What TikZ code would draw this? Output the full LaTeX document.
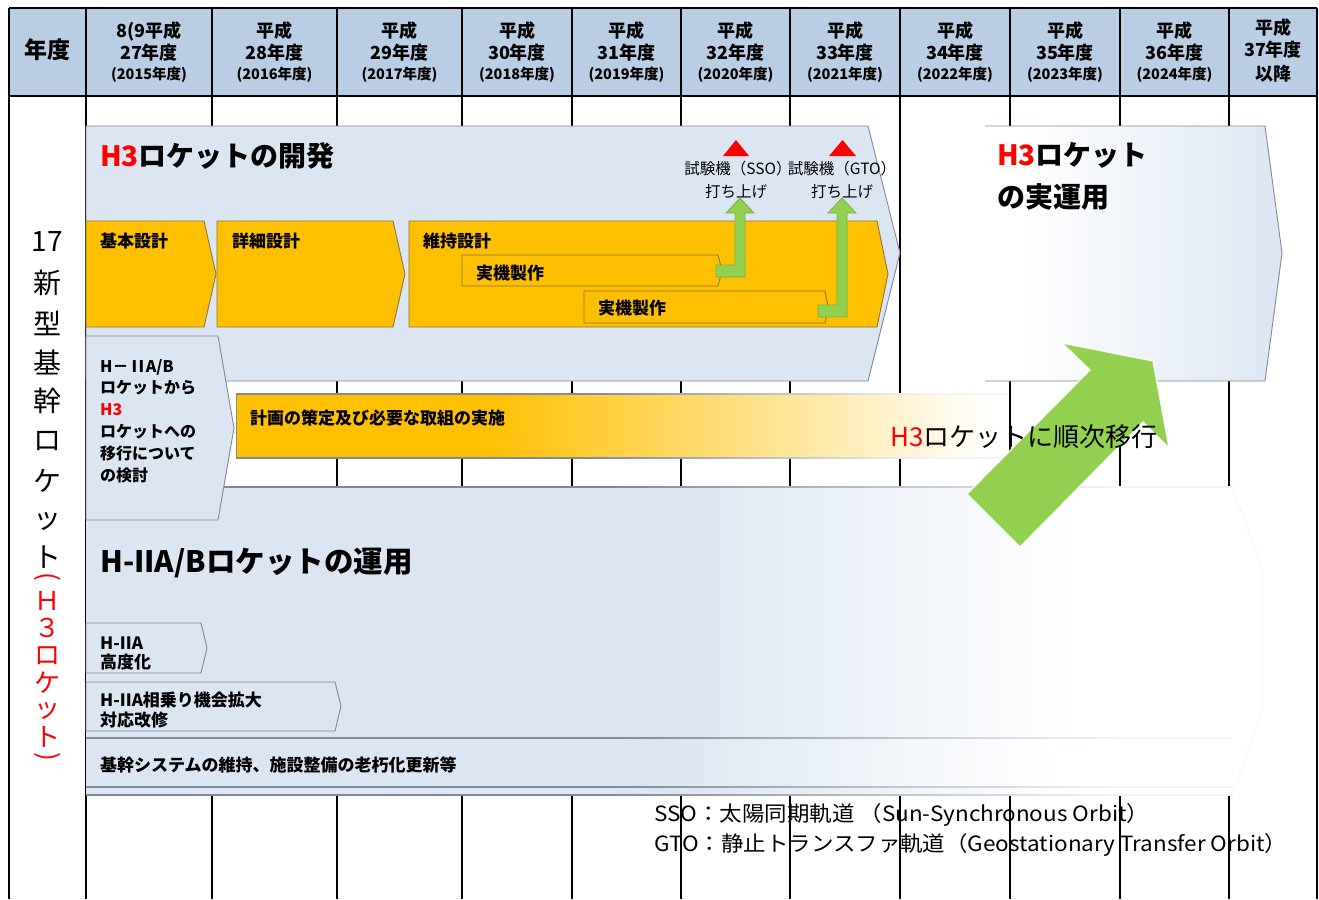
\documentclass[tikz,border=0pt]{standalone}
\usepackage{fontspec}
\setmainfont{Noto Sans CJK JP}
\definecolor{hdrC}{RGB}{185,205,229}
\definecolor{blueL}{RGB}{220,230,242}
\definecolor{orgC}{RGB}{255,192,0}
\definecolor{orgD}{RGB}{140,118,60}
\definecolor{grayL}{RGB}{128,138,152}
\definecolor{grayF}{RGB}{242,244,247}
\definecolor{grnC}{RGB}{146,208,80}
\definecolor{grnD}{RGB}{122,178,70}
\definecolor{redC}{RGB}{255,0,0}
\pgfdeclarehorizontalshading{orgfade}{100bp}{color(0bp)=(orgC); color(25bp)=(orgC); color(41bp)=(orgC); color(74bp)=(white); color(100bp)=(white)}
\pgfdeclarehorizontalshading{opfade}{100bp}{color(0bp)=(white); color(25bp)=(white); color(31bp)=(white); color(75bp)=(blueL); color(100bp)=(blueL)}
\pgfdeclarehorizontalshading{regfade}{100bp}{color(0bp)=(blueL); color(25bp)=(blueL); color(50bp)=(blueL); color(67bp)=(white); color(100bp)=(white)}
\pgfdeclarehorizontalshading{linefade}{100bp}{color(0bp)=(grayL); color(25bp)=(grayL); color(48bp)=(grayL); color(70bp)=(grayF); color(100bp)=(grayF)}
\tikzset{
  gridline/.style={line width=1.6pt, black},
  borderline/.style={line width=2.2pt, black},
  lbox/.style={fill=blueL, draw=grayL, line width=0.9pt},
  obox/.style={fill=orgC, draw=orgD, line width=0.9pt},
  garrow/.style={fill=grnC, draw=grnD, line width=0.8pt},
  redtri/.style={fill=redC},
  hdr/.style={inner sep=0pt, font=\bfseries\fontsize{18}{20}\selectfont},
  hdrs/.style={inner sep=0pt, font=\bfseries\fontsize{14.5}{16}\selectfont},
  title/.style={inner sep=0pt, anchor=west, font=\bfseries\fontsize{28}{32}\selectfont},
  lbl/.style={inner sep=0pt, anchor=west, font=\bfseries\fontsize{17}{20}\selectfont},
  lbls/.style={inner sep=0pt, anchor=west, font=\bfseries\fontsize{16}{19}\selectfont},
  plain/.style={inner sep=0pt, font=\fontsize{15.5}{18}\selectfont},
  vchar/.style={inner sep=0pt, font=\fontsize{28}{30}\selectfont},
  rchar/.style={inner sep=0pt, text=redC, font=\fontsize{26}{28}\selectfont},
  note/.style={inner sep=0pt, anchor=west, font=\fontsize{21}{24}\selectfont},
}
\begin{document}
\begin{tikzpicture}[x=1pt,y=-1pt]
\useasboundingbox (0,0) rectangle (1319,899);
\fill[white] (0,0) rectangle (1319,899);
% header
\fill[hdrC] (9,8) rectangle (1317,96);
% grid
\foreach \x in {86,212,337,462,572,681,790,900,1010,1120,1229}
  \draw[gridline] (\x,8) -- (\x,899);
\draw[borderline] (9,8) -- (9,899);
\draw[borderline] (1317,8) -- (1317,899);
\draw[gridline] (9,8) -- (1317,8);
\draw[gridline] (9,96) -- (1317,96);

% header texts
\node[inner sep=0pt, font=\bfseries\fontsize{23}{26}\selectfont] (h0) at (47.5,50) {年度};
\node[hdr] (h1a) at (149,31) {8(9平成};
\node[hdr] (h1b) at (149,53) {27年度};
\node[hdrs] (h1c) at (149,75) {(2015年度)};
\foreach \c/\n/\yy/\yr in {2/274.5/28/2016, 3/399.5/29/2017, 4/517/30/2018, 5/626.5/31/2019, 6/735.5/32/2020, 7/845/33/2021, 8/955/34/2022, 9/1065/35/2023, 10/1174.5/36/2024}{
  \node[hdr] (h\c a) at (\n,31) {平成};
  \node[hdr] (h\c b) at (\n,53) {\yy 年度};
  \node[hdrs] (h\c c) at (\n,75) {(\yr 年度)};
}
\node[hdr] (h11a) at (1273,28) {平成};
\node[hdr] (h11b) at (1273,50) {37年度};
\node[hdr] (h11c) at (1273,74) {以降};

% H3 development
\draw[lbox] (86,126) -- (868,126) -- (900,253) -- (868,381) -- (86,381) -- cycle;
\node[title] (devT) at (100,156) {\textcolor{redC}{H3}ロケットの開発};
\draw[obox] (86,221) -- (204,221) -- (216,274) -- (204,327) -- (86,327) -- cycle;
\draw[obox] (217,221) -- (393,221) -- (405,274) -- (393,327) -- (217,327) -- cycle;
\draw[obox] (409,221) -- (877,221) -- (888,274) -- (877,327) -- (409,327) -- cycle;
\draw[obox] (462,255) -- (718,255) -- (722,270.5) -- (718,286) -- (462,286) -- cycle;
\draw[obox] (584,291) -- (825,291) -- (828,307) -- (825,323) -- (584,323) -- cycle;
\node[lbl] (kihon) at (100,241) {基本設計};
\node[lbl] (shosai) at (232,241) {詳細設計};
\node[lbl] (iji) at (423,241) {維持設計};
\node[lbl] (jikki1) at (476,273) {実機製作};
\node[lbl] (jikki2) at (598,308) {実機製作};
% launch arrows
\draw[garrow] (716,265) -- (735,265) -- (735,213) -- (726,213) -- (740,198) -- (754,213) -- (745,213) -- (745,277) -- (716,277) -- cycle;
\draw[garrow] (818,305) -- (837,305) -- (837,213) -- (828,213) -- (842,198) -- (856,213) -- (847,213) -- (847,317) -- (818,317) -- cycle;
\fill[redtri] (723,156) -- (749,156) -- (736,140) -- cycle;
\fill[redtri] (829,156) -- (856,156) -- (842.5,140) -- cycle;
\node[plain] (sso1) at (738,169) {試験機（SSO）};
\node[plain] (sso2) at (736,192) {打ち上げ};
\node[plain] (gto1) at (842,169) {試験機（GTO）};
\node[plain] (gto2) at (842,192) {打ち上げ};

% H3 operation
\shade[shading=opfade] (985,126) -- (1265,126) -- (1282,253) -- (1265,381) -- (985,381) -- cycle;
\draw[grayL, line width=0.9pt] (985,381) -- (1265,381) -- (1282,253) -- (1265,126) -- (985,126);
\node[title] (opT1) at (997,155) {\textcolor{redC}{H3}ロケット};
\node[title] (opT2) at (997,197) {の実運用};

% H-IIA/B operation region
\shade[shading=regfade] (86,487) -- (1232,487) -- (1262,567) -- (1262,712) -- (1232,795) -- (86,795) -- cycle;
\draw[grayF, line width=0.8pt] (1232,487) -- (1262,567) -- (1262,712) -- (1232,795);
\shade[shading=linefade] (86,486.5) rectangle (1232,487.5);
\shade[shading=linefade] (86,794.5) rectangle (1232,795.5);
\node[title, font=\bfseries\fontsize{29.5}{32}\selectfont] (hiiT) at (100,563) {H-IIA/Bロケットの運用};
\draw[lbox] (86,623) -- (201,623) -- (207,648) -- (201,673) -- (86,673) -- cycle;
\node[lbl] (kodo1) at (100,643) {H-IIA};
\node[lbl] (kodo2) at (100,662) {高度化};
\draw[lbox] (86,682) -- (335,682) -- (341,706) -- (335,731) -- (86,731) -- cycle;
\node[lbl] (ainori1) at (100,700) {H-IIA相乗り機会拡大};
\node[lbl] (ainori2) at (100,720) {対応改修};
\shade[shading=regfade] (86,738) rectangle (1232,787);
\shade[shading=linefade] (86,737.5) rectangle (1232,738.5);
\shade[shading=linefade] (86,786.5) rectangle (1232,787.5);
\node[lbl] (kikan) at (100,765) {基幹システムの維持、施設整備の老朽化更新等};

% transition study pentagon
\draw[lbox] (86,336) -- (218,336) -- (234,428) -- (218,520) -- (86,520) -- cycle;
\node[lbls] (p1) at (100,367) {H－\hspace{3pt}I\hspace{1.5pt}I\hspace{1.5pt}A/B};
\node[lbls] (p2) at (100,388) {ロケットから};
\node[lbls] (p3) at (100,410) {\textcolor{redC}{H3}};
\node[lbls] (p4) at (100,432) {ロケットへの};
\node[lbls] (p5) at (100,453) {移行について};
\node[lbls] (p6) at (100,475) {の検討};

% planning bar
\shade[shading=orgfade] (236,394) rectangle (1008,458);
\draw[grayL, line width=0.9pt] (236,394) -- (236,458);
\shade[shading=linefade] (236,393.5) rectangle (1008,394.5);
\shade[shading=linefade] (236,457.5) rectangle (1008,458.5);
\node[lbl] (plan) at (250,418) {計画の策定及び必要な取組の実施};

% big transition arrow
\draw[fill=grnC, draw=white, line width=1.2pt] (967,494) -- (1090,370) -- (1062,343) -- (1153,361) -- (1169,448) -- (1143,422) -- (1020,547) -- cycle;
\node[inner sep=0pt, anchor=west, font=\fontsize{26}{30}\selectfont] (shift) at (890,437) {\textcolor{redC}{H3}ロケットに順次移行};

% footnotes
\node[note] (n1) at (654,815) {\scalebox{1.07}[1]{SSO：太陽同期軌道 （Sun-Synchronous Orbit）}};
\node[note] (n2) at (654,845) {\scalebox{1.07}[1]{GTO：静止トランスファ軌道（Geostationary Transfer Orbit）}};

% vertical label
\foreach \ch/\yy [count=\i] in {17/242, 新/283, 型/323, 基/362, 幹/401, ロ/441, ケ/481, ッ/521, ト/557}
  \node[vchar] (v\i) at (47.5,\yy) {\ch};
\node[rchar, rotate=-90] (r1) at (47.5,577) {(};
\foreach \ch/\yy [count=\i from 2] in {Ｈ/601, ３/628, ロ/656, ケ/683, ッ/711, ト/737}
  \node[rchar] (r\i) at (47.5,\yy) {\ch};
\node[rchar, rotate=-90] (r8) at (47.5,757) {)};
\end{tikzpicture}
\end{document}
